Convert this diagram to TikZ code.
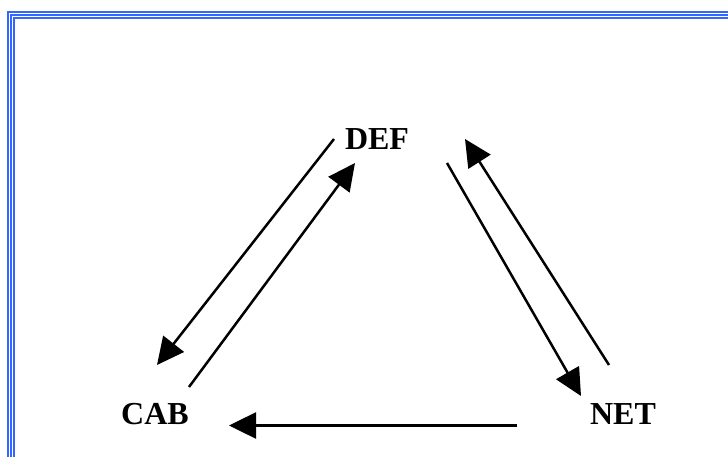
\documentclass[tikz,border=0pt]{standalone}
\usepackage{fontspec}
\setmainfont{Liberation Serif}
\usetikzlibrary{arrows.meta}
\definecolor{frameblue}{RGB}{51,102,255}
\begin{document}
\begin{tikzpicture}[x=1pt,y=-1pt,
  frameline/.style={draw=frameblue,line width=2.2pt,line join=miter},
  label/.style={anchor=base,inner sep=0pt,font=\fontsize{32}{38}\selectfont\bfseries},
  link/.style={line width=2.5pt,-{Triangle[length=27pt,width=26pt]}}]
  \useasboundingbox (0,0) rectangle (728,457);
  % triple frame along the left and top edges
  \draw[frameline] (8,457) -- (8,12) -- (728,12);
  \draw[frameline] (11,457) -- (11,15) -- (728,15);
  \draw[frameline] (14,457) -- (14,18) -- (728,18);
  % labels
  \node[label] (def) at (377,150) {DEF};
  \node[label] (cab) at (155,424) {CAB};
  \node[label] (net) at (623,424) {NET};
  % arrow end points
  \coordinate (defA) at (334,139);
  \coordinate (cabA) at (157,365);
  \coordinate (cabB) at (189,387);
  \coordinate (defB) at (355,163);
  \coordinate (defC) at (447,163);
  \coordinate (netC) at (581,396);
  \coordinate (netD) at (609,365);
  \coordinate (defD) at (465,139);
  \coordinate (netE) at (517,425.5);
  \coordinate (cabE) at (229,425.5);
  % arrows
  \draw[link] (defA) -- (cabA);
  \draw[link] (cabB) -- (defB);
  \draw[link] (defC) -- (netC);
  \draw[link] (netD) -- (defD);
  \draw[link] (netE) -- (cabE);
\end{tikzpicture}
\end{document}
